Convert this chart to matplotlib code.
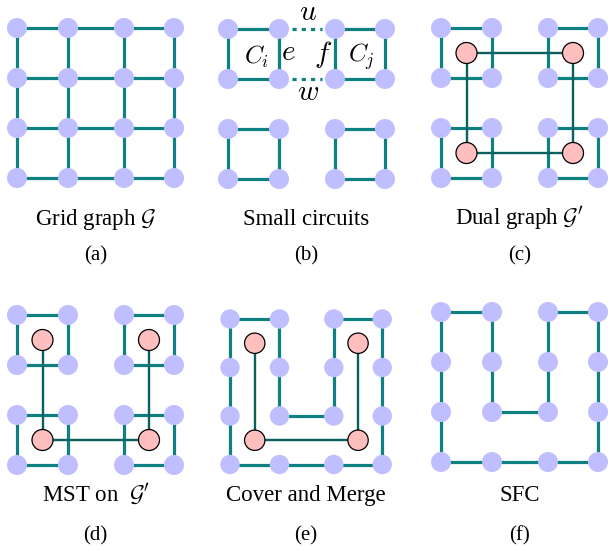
import numpy as np
import matplotlib.pyplot as plt
from matplotlib.patches import Circle

plt.rcParams['font.family'] = 'Liberation Serif'
plt.rcParams['mathtext.fontset'] = 'cm'

# 4x4 grid graph; nodes are (col, row)
grid_n = 4
# top-left corner of every 2x2 small circuit
circuit_corners = [(0, 0), (2, 0), (0, 2), (2, 2)]
# dual graph: one node per circuit (cell centres) and its edges
dual_nodes = [(0.5, 0.5), (2.5, 0.5), (0.5, 2.5), (2.5, 2.5)]
dual_edges = [(0, 1), (0, 2), (1, 3), (2, 3)]
mst_edges = [(0, 2), (2, 3), (1, 3)]
# the space filling curve after merging the circuits along the MST
sfc_path = [(0, 0), (1, 0), (1, 1), (1, 2), (2, 2), (2, 1), (2, 0), (3, 0),
            (3, 1), (3, 2), (3, 3), (2, 3), (1, 3), (0, 3), (0, 2), (0, 1), (0, 0)]
# dotted links between two neighbouring circuits in (b)
bridge_edges = [((1, 0), (2, 0)), ((1, 1), (2, 1))]

captions = ['Grid graph $\\mathcal{G}$', 'Small circuits', "Dual graph $\\mathcal{G}'$",
            "MST on  $\\mathcal{G}'$", 'Cover and Merge', 'SFC']
tags = ['(a)', '(b)', '(c)', '(d)', '(e)', '(f)']

# panel placement in pixels: first node x, first node y, scale
panels = [(17, 28, 1.0), (228, 29, 1.0), (441, 28, 1.0),
          (17, 315, 1.0), (230, 319, 0.97), (441, 312, 1.0)]
col_off = [0, 51, 107, 157]
row_step = 50

BLUE = '#bfbfff'
PINK = '#ffbfbf'
TEAL = '#0e8080'
DARK = '#08605f'

fig = plt.figure(figsize=(6.09, 5.5), dpi=100)
ax = fig.add_axes([0, 0, 1, 1])
ax.set_xlim(0, 609)
ax.set_ylim(550, 0)
ax.set_aspect('equal')
ax.axis('off')


def xy(p, node):
    x0, y0, s = panels[p]
    c, r = node
    return x0 + np.interp(c, range(grid_n), col_off) * s, y0 + r * row_step * s


def edge(p, a, b, color=TEAL, lw=2.3, **kw):
    (x1, y1), (x2, y2) = xy(p, a), xy(p, b)
    ax.plot([x1, x2], [y1, y2], color=color, lw=lw, solid_capstyle='butt', zorder=1, **kw)


def nodes(p):
    s = panels[p][2]
    for c in range(grid_n):
        for r in range(grid_n):
            ax.add_patch(Circle(xy(p, (c, r)), 10 * s, fc=BLUE, ec='none', zorder=3))


def circuits(p):
    for c, r in circuit_corners:
        sq = [(c, r), (c + 1, r), (c + 1, r + 1), (c, r + 1), (c, r)]
        for a, b in zip(sq[:-1], sq[1:]):
            edge(p, a, b)


def dual(p, which):
    s = panels[p][2]
    for i, j in which:
        edge(p, dual_nodes[i], dual_nodes[j], color=DARK, lw=1.7)
    for d in dual_nodes:
        ax.add_patch(Circle(xy(p, d), 10.5 * s, fc=PINK, ec='black', lw=0.9, zorder=4))


# (a) grid graph
for c in range(grid_n):
    for r in range(grid_n):
        if c + 1 < grid_n:
            edge(0, (c, r), (c + 1, r))
        if r + 1 < grid_n:
            edge(0, (c, r), (c, r + 1))
nodes(0)

# (b) small circuits
circuits(1)
for a, b in bridge_edges:
    (x1, y1), (x2, y2) = xy(1, a), xy(1, b)
    ax.plot([x1 + 13, x2 - 13], [y1, y2], color=TEAL, lw=2.3,
            dashes=(1.3, 1.6), zorder=1)
nodes(1)
ax.text(308, 13, '$u$', fontsize=21, ha='center', va='center')
ax.text(308, 93, '$w$', fontsize=21, ha='center', va='center')
ax.text(257, 57, '$C_i$', fontsize=18, ha='center', va='center')
ax.text(288, 53, '$e$', fontsize=21, ha='center', va='center')
ax.text(323, 55, '$f$', fontsize=21, ha='center', va='center')
ax.text(361, 57, '$C_j$', fontsize=18, ha='center', va='center')

# (c) dual graph over the circuits
circuits(2)
nodes(2)
dual(2, dual_edges)

# (d) minimum spanning tree of the dual graph
circuits(3)
nodes(3)
dual(3, mst_edges)

# (e) and (f) merged circuit
for p in (4, 5):
    for a, b in zip(sfc_path[:-1], sfc_path[1:]):
        edge(p, a, b)
    nodes(p)
dual(4, mst_edges)

for i in range(6):
    x0, y0, s = panels[i]
    cx = x0 + col_off[-1] * s / 2
    top = i < 3
    ax.text(cx, 225 if top else 501, captions[i], fontsize=16.5, ha='center', va='baseline')
    ax.text(cx, 260 if top else 540, tags[i], fontsize=15, ha='center', va='baseline')

fig.savefig('out.png', dpi=100)
